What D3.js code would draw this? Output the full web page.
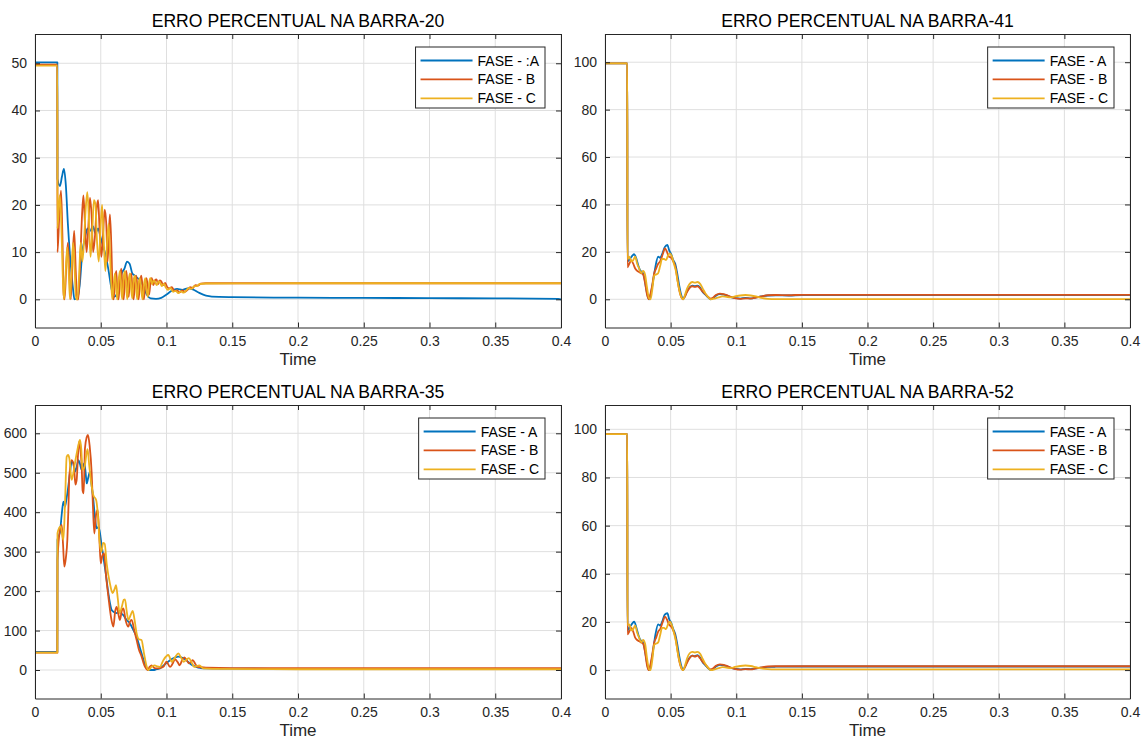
<!DOCTYPE html>
<html>
<head>
<meta charset="utf-8">
<script src="https://cdn.jsdelivr.net/npm/d3@7"></script>
<style>
  body { margin: 0; background: #ffffff; }
  svg { display: block; font-family: "Liberation Sans", Arial, Helvetica, sans-serif; }
</style>
</head>
<body>
<svg id="fig" width="1142" height="740"></svg>
<script>
// ---- shared axis ticks ----
const xTicks = [0, 0.05, 0.1, 0.15, 0.2, 0.25, 0.3, 0.35, 0.4];
const xTickLabels = ["0", "0.05", "0.1", "0.15", "0.2", "0.25", "0.3", "0.35", "0.4"];
const xLimits = [0, 0.4];

const ticks20 = [0, 10, 20, 30, 40, 50];
const ticks41 = [0, 20, 40, 60, 80, 100];
const ticks35 = [0, 100, 200, 300, 400, 500, 600];
const ticks52 = [0, 20, 40, 60, 80, 100];

const limits20 = [-5.97, 56.2];
const limits41 = [-11.9, 111.9];
const limits35 = [-72.2, 671.7];
const limits52 = [-11.8, 110.1];

const titles = [
  "ERRO PERCENTUAL NA BARRA-20",
  "ERRO PERCENTUAL NA BARRA-41",
  "ERRO PERCENTUAL NA BARRA-35",
  "ERRO PERCENTUAL NA BARRA-52"
];
const legend20 = ["FASE - :A", "FASE - B", "FASE - C"];
const legendStd = ["FASE - A", "FASE - B", "FASE - C"];

// ---- BARRA-20: [time, percent error] ----
const b20A = [[0,50.2],[0.017,50.2],[0.0171,25.5],[0.019,24],[0.0205,26],[0.022,27.6],[0.0235,24],[0.025,16],[0.027,8],[0.029,2],[0.030,0],[0.032,0.2],[0.034,3],[0.036,10],[0.038,13],[0.040,15],[0.042,14.5],[0.044,15.5],[0.046,14],[0.048,15],[0.050,13],[0.052,11],[0.054,9],[0.056,6],[0.058,2.5],[0.060,0.5],[0.062,1],[0.064,3],[0.066,5.5],[0.068,6.5],[0.070,8],[0.072,7.5],[0.074,5.5],[0.076,5],[0.078,4.5],[0.080,4],[0.082,3],[0.085,1],[0.088,0.2],[0.092,0.1],[0.096,0.3],[0.100,1],[0.104,1.8],[0.108,2.2],[0.112,2],[0.116,2.3],[0.12,2.1],[0.124,1.5],[0.13,0.8],[0.14,0.5],[0.15,0.45],[0.2,0.35],[0.25,0.3],[0.3,0.25],[0.35,0.2],[0.398,0.1],[0.4,0]];
const b20B = [[0,49.7],[0.017,49.7],[0.0171,10],[0.0185,18],[0.0198,23],[0.0208,14],[0.0218,1],[0.0225,0],[0.0238,7],[0.025,12],[0.0262,5],[0.0272,0],[0.0285,8],[0.0298,14.5],[0.031,6],[0.032,0],[0.033,0],[0.0345,9],[0.0358,18],[0.0368,22],[0.038,16],[0.0392,10],[0.0405,15],[0.0418,21.5],[0.043,18],[0.0442,10],[0.0455,13],[0.0468,19],[0.048,21],[0.0492,14],[0.0505,9],[0.0518,14],[0.053,19],[0.0542,16],[0.0552,8],[0.0562,14],[0.057,18],[0.0582,10],[0.059,2],[0.0598,0],[0.0608,4],[0.0618,6],[0.0628,1],[0.0636,0],[0.0646,4.5],[0.0656,6.5],[0.0666,2],[0.0674,0],[0.0684,4],[0.0694,6],[0.0704,3],[0.0712,0.5],[0.0722,4],[0.0732,5.5],[0.0742,2],[0.075,0],[0.076,3.5],[0.077,5],[0.078,2],[0.0788,0],[0.0798,3.5],[0.0808,5],[0.082,2],[0.0828,0],[0.0838,3],[0.0848,4.5],[0.0858,2.5],[0.0868,1],[0.0878,3.5],[0.0888,4.5],[0.09,3],[0.0912,4],[0.0924,4.2],[0.0936,3.2],[0.0948,4],[0.096,3.8],[0.0975,3],[0.099,3.5],[0.1005,2.6],[0.102,2.3],[0.104,2.6],[0.106,1.8],[0.108,1.9],[0.11,1.5],[0.112,1.9],[0.114,1.6],[0.116,2],[0.118,2.6],[0.12,2.4],[0.122,3],[0.124,2.9],[0.126,3.3],[0.13,3.4],[0.15,3.4],[0.2,3.4],[0.3,3.4],[0.4,3.4]];
const b20C = [[0,49.5],[0.017,49.5],[0.0171,15],[0.0188,22],[0.0198,18],[0.021,6],[0.022,0],[0.0232,5],[0.0245,11],[0.0256,6],[0.0266,0],[0.0278,6],[0.029,12],[0.0302,6],[0.0312,0],[0.0322,0],[0.0335,5],[0.0348,12],[0.036,8],[0.0372,12],[0.0385,19],[0.0398,22.7],[0.041,17],[0.0422,9],[0.0435,14],[0.0448,21],[0.046,20],[0.0472,12],[0.0485,8],[0.0498,15],[0.051,20],[0.0522,13],[0.0535,6],[0.0548,12],[0.056,16],[0.057,10],[0.058,3],[0.0588,0],[0.0598,3],[0.0608,5.5],[0.0618,2],[0.0626,0],[0.0636,4],[0.0646,6],[0.0656,2],[0.0664,0],[0.0674,4.5],[0.0684,6],[0.0694,2.5],[0.0702,0],[0.0712,4],[0.0722,5.5],[0.0732,2],[0.074,0.2],[0.075,4],[0.076,5],[0.077,2],[0.0778,0],[0.0788,3.5],[0.0798,4.5],[0.081,1.5],[0.0818,0],[0.0828,3],[0.0838,4.5],[0.0848,2],[0.0858,0.5],[0.0868,3.5],[0.0878,4.5],[0.089,3.2],[0.0902,4],[0.0914,3.6],[0.0926,3],[0.0938,3.8],[0.095,3.6],[0.0965,2.8],[0.098,3.3],[0.0995,2.5],[0.101,2],[0.103,2.4],[0.105,1.6],[0.107,1.8],[0.109,1.3],[0.111,1.7],[0.113,1.4],[0.115,1.9],[0.117,2.4],[0.119,2.2],[0.121,2.8],[0.123,2.8],[0.125,3.2],[0.13,3.35],[0.2,3.4],[0.4,3.4]];

// ---- BARRA-41 ----
const b41A = [[0,99.5],[0.017,99.5],[0.0171,16],[0.019,17],[0.021,18.5],[0.0222,19],[0.024,17],[0.0255,14],[0.027,12],[0.0285,11.5],[0.03,9],[0.0315,4],[0.033,0.5],[0.034,0],[0.0355,4],[0.037,9],[0.0385,14],[0.0405,18],[0.042,17.5],[0.0435,19],[0.0455,22],[0.0475,22.9],[0.049,20.5],[0.0505,19],[0.052,16.5],[0.0535,15],[0.055,11],[0.0565,6],[0.058,2],[0.0595,0],[0.061,1.5],[0.0625,3.5],[0.0645,5],[0.0665,5.8],[0.0685,5.5],[0.0705,5.8],[0.0725,5],[0.0745,3],[0.0765,2],[0.0785,0.8],[0.0805,0],[0.0825,0.5],[0.0845,1.5],[0.0875,2.2],[0.0905,2],[0.0935,1.5],[0.0965,0.8],[0.0995,0.5],[0.103,0.3],[0.107,0.6],[0.111,0.4],[0.115,0.8],[0.119,1.2],[0.124,1.6],[0.13,1.7],[0.14,1.6],[0.15,1.8],[0.2,1.8],[0.3,1.8],[0.4,1.8]];
const b41B = [[0,99.5],[0.017,99.5],[0.0171,13.5],[0.0185,15],[0.02,16.5],[0.0215,15],[0.023,13],[0.0245,12],[0.026,11.5],[0.0275,11],[0.029,10.5],[0.0305,7],[0.032,2],[0.0333,0],[0.0345,2],[0.036,6],[0.0375,11],[0.039,13],[0.0405,15],[0.042,16],[0.044,19],[0.0457,21.5],[0.0472,20],[0.0487,18],[0.0505,17.5],[0.052,16],[0.0535,14],[0.055,9],[0.0565,4],[0.058,1],[0.0593,0],[0.0607,1],[0.0625,3],[0.0645,4.8],[0.0665,5.5],[0.0685,5.2],[0.0705,5.5],[0.0725,4.5],[0.0745,3.2],[0.0765,2.2],[0.0785,1],[0.0805,0.3],[0.0825,0.8],[0.0845,1.8],[0.0875,2.4],[0.0905,2.2],[0.0935,1.6],[0.0965,0.9],[0.0995,0.4],[0.103,0.2],[0.107,0.4],[0.111,0.3],[0.115,0.7],[0.119,1.2],[0.124,1.7],[0.13,1.8],[0.14,1.7],[0.15,1.9],[0.2,1.9],[0.3,1.9],[0.4,1.9]];
const b41C = [[0,99.5],[0.017,99.5],[0.0171,17],[0.0185,18],[0.02,16],[0.0215,16.5],[0.023,18],[0.0245,15],[0.026,13],[0.0275,11],[0.029,12],[0.0305,10.5],[0.032,5],[0.0335,0.5],[0.0347,0],[0.036,4],[0.0375,10],[0.039,10.5],[0.0405,11],[0.042,14],[0.0435,17],[0.045,17],[0.0465,16.5],[0.048,18.5],[0.0495,19.4],[0.051,18],[0.0525,15],[0.054,12],[0.0555,7],[0.057,3],[0.0585,0.5],[0.0597,0],[0.061,2],[0.0625,4.5],[0.0645,6.5],[0.0665,7.3],[0.0685,7],[0.0705,7.3],[0.0725,6.5],[0.0745,4.5],[0.0765,2.5],[0.0785,1],[0.0805,0],[0.0835,0.3],[0.0865,0.8],[0.0895,1.2],[0.0925,1],[0.0955,0.8],[0.099,1.2],[0.103,1.6],[0.107,1.8],[0.111,1.6],[0.115,1.2],[0.119,0.6],[0.124,0.2],[0.13,0.1],[0.2,0.1],[0.4,0.1]];

// ---- BARRA-35 ----
const b35A = [[0,46],[0.017,46],[0.0171,330],[0.019,350],[0.0205,400],[0.0216,427],[0.0228,414],[0.024,435],[0.0253,465],[0.0266,500],[0.0279,528],[0.029,525],[0.0304,503],[0.0317,515],[0.033,532],[0.0342,522],[0.0355,507],[0.0365,515],[0.0375,524],[0.0385,500],[0.0393,473],[0.0405,488],[0.0418,503],[0.043,470],[0.0444,431],[0.0455,390],[0.0469,359],[0.048,362],[0.049,355],[0.0505,320],[0.052,287],[0.054,240],[0.0558,194],[0.057,170],[0.0583,152],[0.06,147],[0.0621,144],[0.064,150],[0.066,142],[0.0672,139],[0.069,130],[0.0722,118],[0.075,100],[0.0773,84],[0.079,65],[0.0811,42],[0.083,20],[0.0849,4],[0.087,0],[0.09,0],[0.0925,2],[0.095,4],[0.098,12],[0.1,18],[0.1027,25],[0.106,31],[0.109,34],[0.112,31],[0.115,25],[0.118,16],[0.121,10],[0.123,7],[0.126,5],[0.13,4],[0.15,3.5],[0.2,3],[0.3,3],[0.4,3]];
const b35B = [[0,44],[0.017,44],[0.0171,279],[0.019,355],[0.0203,368],[0.0213,320],[0.0223,262],[0.0235,285],[0.0246,330],[0.0255,420],[0.0261,490],[0.0279,532],[0.0297,515],[0.0307,470],[0.0317,482],[0.0327,545],[0.0335,579],[0.0345,560],[0.0355,515],[0.0362,455],[0.037,448],[0.038,562],[0.0393,590],[0.0403,596],[0.0415,570],[0.0431,499],[0.044,420],[0.0451,346],[0.0465,395],[0.0477,406],[0.049,330],[0.05,270],[0.0512,290],[0.0525,296],[0.054,240],[0.0558,186],[0.058,130],[0.0596,110],[0.061,150],[0.0621,160],[0.0635,140],[0.0646,127],[0.066,150],[0.0672,156],[0.069,125],[0.071,110],[0.0722,122],[0.0735,127],[0.0755,100],[0.0773,76],[0.079,52],[0.0811,34],[0.0825,18],[0.0837,8],[0.0857,0],[0.0872,8],[0.0887,12],[0.0905,6],[0.0925,4],[0.095,5],[0.0976,8],[0.1,21],[0.1027,8],[0.1045,15],[0.1065,27],[0.1085,20],[0.11,12],[0.1118,24],[0.1135,32],[0.1152,26],[0.117,17],[0.1185,20],[0.12,25],[0.1218,16],[0.1235,8],[0.126,7],[0.13,6],[0.15,5],[0.2,5],[0.3,5],[0.4,5]];
const b35C = [[0,44],[0.017,44],[0.0171,347],[0.0195,364],[0.0216,330],[0.0228,420],[0.0241,541],[0.0252,545],[0.0261,537],[0.0279,482],[0.0299,515],[0.0317,549],[0.033,570],[0.0342,583],[0.0352,560],[0.0361,507],[0.038,520],[0.039,545],[0.04,560],[0.0412,520],[0.0425,480],[0.0444,443],[0.0465,431],[0.048,385],[0.049,330],[0.0505,300],[0.0518,322],[0.053,320],[0.0545,270],[0.057,219],[0.059,195],[0.0605,205],[0.0616,215],[0.063,180],[0.0643,144],[0.066,160],[0.0675,178],[0.0684,179],[0.0697,150],[0.071,127],[0.0728,140],[0.0743,150],[0.0758,125],[0.0773,93],[0.079,78],[0.081,76],[0.083,40],[0.085,8],[0.0865,0],[0.0885,8],[0.091,12],[0.093,9],[0.095,8],[0.0976,25],[0.1014,38],[0.104,21],[0.1065,32],[0.109,42],[0.111,32],[0.113,21],[0.117,30],[0.119,20],[0.121,8],[0.125,12],[0.128,4],[0.135,3],[0.2,2],[0.4,2]];

// ---- BARRA-52 ----
const b52A = [[0,98],[0.017,98],[0.0171,16.5],[0.019,18],[0.021,19.5],[0.0222,20.1],[0.024,17.5],[0.0255,14.5],[0.027,12.5],[0.0285,12],[0.03,9.5],[0.0315,4.5],[0.033,0.5],[0.034,0],[0.0355,4],[0.037,9.5],[0.0385,15],[0.0405,19],[0.042,18.5],[0.0435,20],[0.0455,23],[0.0475,23.6],[0.049,21],[0.0505,19.5],[0.052,17],[0.0535,15],[0.055,11],[0.0565,6],[0.058,2],[0.0595,0],[0.061,1.5],[0.0625,3.5],[0.0645,5.2],[0.0665,6],[0.0685,5.8],[0.0705,6.2],[0.0725,5.2],[0.0745,3.2],[0.0765,2],[0.0785,0.8],[0.0805,0],[0.0825,0.5],[0.0845,1.5],[0.0875,2.2],[0.0905,2],[0.0935,1.5],[0.0965,0.8],[0.0995,0.5],[0.103,0.3],[0.107,0.5],[0.111,0.4],[0.115,0.7],[0.119,1],[0.124,1.3],[0.13,1.4],[0.15,1.5],[0.2,1.5],[0.3,1.5],[0.4,1.5]];
const b52B = [[0,98],[0.017,98],[0.0171,14.8],[0.0185,16],[0.02,17.5],[0.0215,16],[0.023,13.5],[0.0245,12.5],[0.026,12],[0.0275,11.5],[0.029,11],[0.0305,7.5],[0.032,2],[0.0333,0],[0.0345,2],[0.036,6.5],[0.0375,11.5],[0.039,13.5],[0.0405,16],[0.042,17],[0.044,20],[0.0457,22.2],[0.0472,21],[0.0487,19],[0.0505,18],[0.052,16.5],[0.0535,14],[0.055,9],[0.0565,4],[0.058,1],[0.0593,0],[0.0607,1],[0.0625,3],[0.0645,5],[0.0665,6],[0.0685,5.6],[0.0705,6],[0.0725,4.8],[0.0745,3.4],[0.0765,2.3],[0.0785,1],[0.0805,0.3],[0.0825,0.8],[0.0845,1.8],[0.0875,2.4],[0.0905,2.2],[0.0935,1.6],[0.0965,0.9],[0.0995,0.4],[0.103,0.2],[0.107,0.4],[0.111,0.3],[0.115,0.7],[0.119,1.1],[0.124,1.5],[0.13,1.6],[0.15,1.6],[0.2,1.6],[0.3,1.6],[0.4,1.6]];
const b52C = [[0,98],[0.017,98],[0.0171,18.7],[0.0185,19],[0.02,16.5],[0.0215,17],[0.023,18.5],[0.0245,15.5],[0.026,13.5],[0.0275,11.5],[0.029,12.5],[0.0305,11],[0.032,5],[0.0335,0.5],[0.0347,0],[0.036,4],[0.0375,10.5],[0.039,11],[0.0405,11.5],[0.042,14.5],[0.0435,17.5],[0.045,17.5],[0.0465,17],[0.048,19],[0.0495,20.1],[0.051,18.5],[0.0525,15.5],[0.054,12],[0.0555,7],[0.057,3],[0.0585,0.5],[0.0597,0],[0.061,2],[0.0625,4.8],[0.0645,7],[0.0665,7.6],[0.0685,7.3],[0.0705,7.6],[0.0725,6.8],[0.0745,4.6],[0.0765,2.5],[0.0785,1],[0.0805,0],[0.0835,0.3],[0.0865,0.8],[0.0895,1.2],[0.0925,1],[0.0955,0.8],[0.099,1.3],[0.103,1.7],[0.107,1.9],[0.111,1.7],[0.115,1.2],[0.119,0.7],[0.124,0.4],[0.13,0.3],[0.2,0.3],[0.4,0.3]];

// ---- styling ----
const phaseColors = ["#0072BD", "#D95319", "#EDB120"];
const axisColor = "#262626";
const gridColor = "#dfdfdf";

// Four panels in a 2x2 grid (pixel boxes of the plotting areas)
const panels = [
  { box: { l: 35,  r: 561,  t: 34,  b: 327.5 }, title: titles[0], yLim: limits20, yTicks: ticks20, series: [b20A, b20B, b20C], names: legend20 },
  { box: { l: 605, r: 1130, t: 34,  b: 327.5 }, title: titles[1], yLim: limits41, yTicks: ticks41, series: [b41A, b41B, b41C], names: legendStd },
  { box: { l: 35,  r: 561,  t: 405, b: 698.5 }, title: titles[2], yLim: limits35, yTicks: ticks35, series: [b35A, b35B, b35C], names: legendStd },
  { box: { l: 605, r: 1130, t: 405, b: 698.5 }, title: titles[3], yLim: limits52, yTicks: ticks52, series: [b52A, b52B, b52C], names: legendStd }
];

const svg = d3.select("#fig");

panels.forEach((p, idx) => {
  const { l, r, t, b } = p.box;
  const x = d3.scaleLinear().domain(xLimits).range([l, r]);
  const y = d3.scaleLinear().domain(p.yLim).range([b, t]);
  const g = svg.append("g");

  // white plotting area
  g.append("rect").attr("x", l).attr("y", t).attr("width", r - l).attr("height", b - t).attr("fill", "#fff");

  // grid
  g.append("g").selectAll("line").data(xTicks).join("line")
    .attr("x1", d => x(d)).attr("x2", d => x(d)).attr("y1", t).attr("y2", b)
    .attr("stroke", gridColor).attr("stroke-width", 1);
  g.append("g").selectAll("line").data(p.yTicks).join("line")
    .attr("x1", l).attr("x2", r).attr("y1", d => y(d)).attr("y2", d => y(d))
    .attr("stroke", gridColor).attr("stroke-width", 1);

  // data lines
  const clipId = "clip" + idx;
  g.append("clipPath").attr("id", clipId).append("rect")
    .attr("x", l).attr("y", t).attr("width", r - l).attr("height", b - t);
  const line = d3.line().x(d => x(d[0])).y(d => y(d[1])).curve(d3.curveMonotoneX);
  const lines = g.append("g").attr("clip-path", `url(#${clipId})`);
  p.series.forEach((s, i) => {
    lines.append("path").datum(s).attr("d", line)
      .attr("fill", "none").attr("stroke", phaseColors[i])
      .attr("stroke-width", 1.8).attr("stroke-linejoin", "round");
  });

  // axes (ticks point inwards, box on all four sides)
  const fmtX = (d, i) => xTickLabels[i];
  const axB = g.append("g").attr("transform", `translate(0,${b})`)
    .call(d3.axisBottom(x).tickValues(xTicks).tickFormat(fmtX).tickSize(-5).tickSizeOuter(0).tickPadding(9));
  const axT = g.append("g").attr("transform", `translate(0,${t})`)
    .call(d3.axisTop(x).tickValues(xTicks).tickFormat("").tickSize(-5).tickSizeOuter(0));
  const axL = g.append("g").attr("transform", `translate(${l},0)`)
    .call(d3.axisLeft(y).tickValues(p.yTicks).tickFormat(d3.format("d")).tickSize(-5).tickSizeOuter(0).tickPadding(8));
  const axR = g.append("g").attr("transform", `translate(${r},0)`)
    .call(d3.axisRight(y).tickValues(p.yTicks).tickFormat("").tickSize(-5).tickSizeOuter(0));
  [axB, axT, axL, axR].forEach(a => {
    a.select(".domain").attr("stroke", axisColor).attr("stroke-width", 1);
    a.selectAll(".tick line").attr("stroke", axisColor).attr("stroke-width", 1);
    a.selectAll(".tick text").attr("fill", "#262626").style("font-size", "14px")
      .style("font-family", '"Liberation Sans", Arial, sans-serif');
  });

  // x label
  g.append("text").attr("x", (l + r) / 2).attr("y", b + 37.5)
    .attr("text-anchor", "middle").attr("fill", "#262626")
    .style("font-size", "17px").text("Time");

  // title
  g.append("text").attr("x", (l + r) / 2).attr("y", t - 7)
    .attr("text-anchor", "middle").attr("fill", "#000")
    .style("font-size", "17.6px").text(p.title);

  // legend
  const leg = g.append("g");
  const texts = p.names.map((n, i) => leg.append("text")
    .attr("y", 0).attr("fill", "#000").style("font-size", "14px").text(n));
  const maxW = d3.max(texts, tx => tx.node().getComputedTextLength());
  const boxW = 62 + maxW + 6;
  const boxH = 61;
  const bx = r - 16 - boxW;
  const by = t + 13;
  leg.insert("rect", ":first-child").attr("x", bx).attr("y", by).attr("width", boxW).attr("height", boxH)
    .attr("fill", "#fff").attr("stroke", axisColor).attr("stroke-width", 1);
  p.names.forEach((n, i) => {
    const ry = by + 13.5 + i * 18.9;
    leg.append("line").attr("x1", bx + 5).attr("x2", bx + 57).attr("y1", ry).attr("y2", ry)
      .attr("stroke", phaseColors[i]).attr("stroke-width", 1.8);
    texts[i].attr("x", bx + 62).attr("y", ry + 5);
  });
});
</script>
</body>
</html>
